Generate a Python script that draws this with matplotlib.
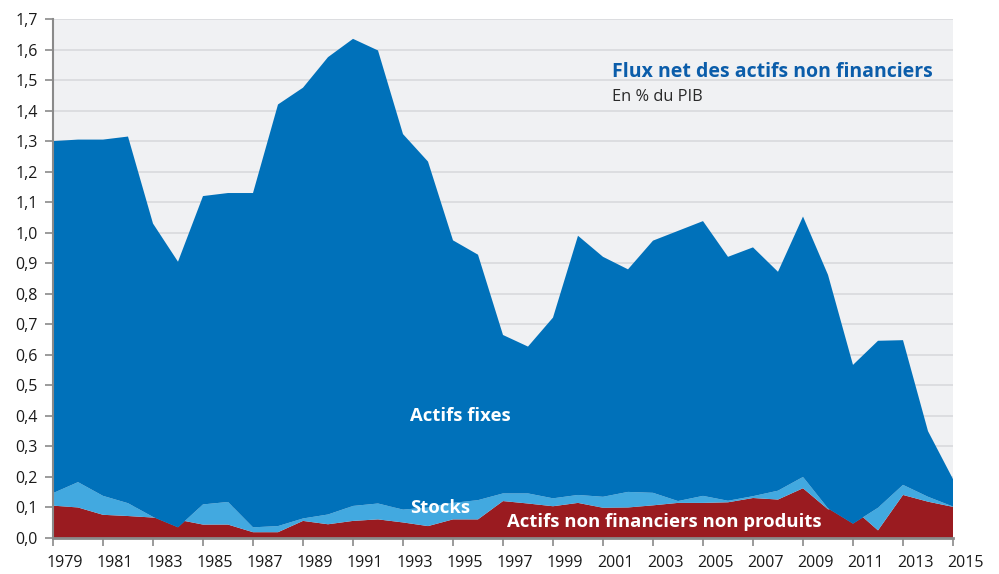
import matplotlib
matplotlib.use("Agg")
import matplotlib.pyplot as plt
from matplotlib.transforms import ScaledTranslation

years = list(range(1979, 2016))

# Actifs non financiers non produits (% du PIB)
non_produits = [0.106, 0.100, 0.076, 0.072, 0.067, 0.060, 0.044, 0.044, 0.019, 0.019,
                0.056, 0.045, 0.056, 0.061, 0.051, 0.039, 0.061, 0.061, 0.121, 0.113,
                0.104, 0.115, 0.099, 0.100, 0.107, 0.115, 0.115, 0.117, 0.131, 0.126,
                0.163, 0.094, 0.097, 0.025, 0.141, 0.119, 0.102]
# Stocks (% du PIB)
stocks = [0.041, 0.083, 0.062, 0.042, 0.002, -0.025, 0.066, 0.074, 0.016, 0.020,
          0.008, 0.032, 0.049, 0.052, 0.042, 0.061, 0.054, 0.063, 0.025, 0.033,
          0.026, 0.026, 0.036, 0.051, 0.041, 0.006, 0.023, 0.005, 0.006, 0.029,
          0.037, 0.003, -0.050, 0.074, 0.033, 0.016, 0.001]
# Actifs fixes (% du PIB)
actifs_fixes = [1.153, 1.122, 1.167, 1.201, 0.961, 0.870, 1.010, 1.012, 1.095, 1.381,
                1.411, 1.498, 1.530, 1.484, 1.230, 1.133, 0.860, 0.804, 0.519, 0.481,
                0.592, 0.849, 0.786, 0.729, 0.826, 0.885, 0.900, 0.799, 0.815, 0.717,
                0.853, 0.765, 0.520, 0.547, 0.474, 0.215, 0.090]

xtick_years = list(range(1979, 2016, 2))
xtick_labels = [str(y) for y in xtick_years]
ytick_values = [i / 10 for i in range(0, 18)]
ytick_labels = [f"{v:.1f}".replace(".", ",") for v in ytick_values]

title = "Flux net des actifs non financiers"
subtitle = "En % du PIB"

C_RED = "#9A1B20"
C_LIGHT = "#42A9E0"
C_DARK = "#0071BA"
C_TITLE = "#0B5DAA"
C_BG = "#F0F1F3"
C_GRID = "#D8DADD"
C_AXIS = "#8A8A8A"

plt.rcParams["font.family"] = ["Open Sans", "DejaVu Sans"]

W, H = 999, 574
fig = plt.figure(figsize=(W / 100, H / 100), dpi=100)
ax = fig.add_axes([53 / W, 36 / H, 900 / W, 519 / H])
ax.set_facecolor(C_BG)

ax.stackplot(years, non_produits, stocks, actifs_fixes,
             colors=[C_RED, C_LIGHT, C_DARK], linewidth=0, antialiased=True, zorder=2)

ax.set_xlim(1979, 2015)
ax.set_ylim(0, 1.7)
ax.set_yticks(ytick_values)
ax.set_yticklabels(ytick_labels)
ax.set_xticks(xtick_years)
ax.set_xticklabels(xtick_labels)
ax.yaxis.grid(True, color=C_GRID, linewidth=1.2, zorder=0)
ax.set_axisbelow(True)

for s in ["top", "right"]:
    ax.spines[s].set_visible(False)
ax.spines["left"].set_color(C_AXIS)
ax.spines["left"].set_linewidth(1.5)
ax.spines["bottom"].set_color(C_AXIS)
ax.spines["bottom"].set_linewidth(2)
ax.spines["left"].set_zorder(5)
ax.spines["bottom"].set_zorder(5)

ax.tick_params(axis="y", length=6, width=1.2, color=C_AXIS, labelsize=11.5,
               labelcolor="#1a1a1a", pad=5)
ax.tick_params(axis="x", length=6, width=1.2, color=C_AXIS, labelsize=11.5,
               labelcolor="#1a1a1a", pad=6)
offset = ScaledTranslation(12 / 100, 0, fig.dpi_scale_trans)
for lab in ax.get_xticklabels():
    lab.set_transform(lab.get_transform() + offset)

fig.text(612 / W, 1 - 77 / H, title, fontsize=14, fontweight="bold",
         color=C_TITLE, va="baseline", ha="left", zorder=10)
fig.text(612 / W, 1 - 97 / H, subtitle, fontsize=11.8,
         color="#2a2a2a", ha="left", va="center", zorder=10)

txt_kw = dict(color="white", fontweight="bold", fontsize=13.3, ha="left", va="center", zorder=6)
ax.text(1993.3, 0.40, "Actifs fixes", **txt_kw)
ax.text(1993.3, 0.098, "Stocks", **txt_kw)
ax.text(1997.15, 0.054, "Actifs non financiers non produits", **txt_kw)

fig.savefig("out.png", dpi=100)
